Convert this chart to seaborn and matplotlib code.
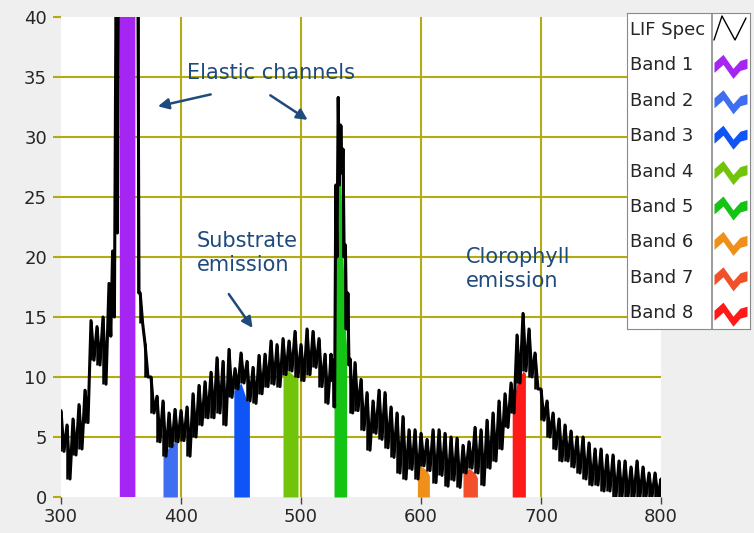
import numpy as np
import matplotlib
matplotlib.use("Agg")
import matplotlib.pyplot as plt
import seaborn as sns

#%% data (nm, intensity upper / lower noise envelope)
wl = [300, 305, 310, 315, 320, 325, 330, 335, 340, 343,
      346, 348, 355, 362, 364, 366, 370, 375, 380, 385,
      390, 395, 400, 405, 410, 415, 420, 425, 430, 435,
      440, 445, 450, 455, 460, 465, 470, 475, 480, 485,
      490, 495, 500, 505, 510, 515, 520, 525, 527, 529,
      531, 533, 535, 537, 539, 541, 545, 550, 555, 560,
      565, 570, 575, 580, 585, 590, 595, 600, 605, 610,
      615, 620, 625, 630, 635, 640, 645, 650, 655, 660,
      665, 670, 675, 680, 685, 690, 695, 700, 705, 710,
      715, 720, 725, 730, 735, 740, 745, 750, 755, 760,
      765, 770, 775, 780, 785, 790, 795, 800]
lif_hi = [7.2, 6.0, 6.5, 7.7, 8.9, 14.7, 14.2, 15.0, 17.8, 20.5,
          45, 45, 45, 45, 45, 17.0, 12.8, 10.0, 8.4, 8.0,
          7.0, 7.3, 7.2, 7.5, 8.6, 9.3, 9.6, 10.4, 11.6, 11.3,
          12.3, 10.7, 12.0, 11.3, 10.8, 11.8, 11.9, 13.0, 12.7, 13.2,
          13.0, 13.8, 12.7, 14.0, 13.8, 13.2, 11.9, 11.9, 11.4, 26.0,
          33.3, 31.0, 29.0, 21.0, 17.0, 11.5, 11.2, 9.8, 8.7, 8.0,
          8.9, 8.7, 7.5, 7.0, 6.7, 5.6, 5.6, 5.3, 4.8, 5.6,
          5.6, 5.3, 5.0, 4.9, 4.3, 4.6, 5.8, 5.6, 6.4, 7.0,
          8.0, 8.6, 9.5, 13.5, 15.3, 14.0, 12.0, 9.0, 8.0, 7.0,
          6.5, 6.0, 5.5, 5.0, 5.0, 4.5, 4.0, 4.0, 3.5, 3.5,
          3.0, 3.0, 2.5, 3.0, 2.5, 2.0, 2.0, 1.5]
lif_lo = [3.8, 1.5, 3.5, 4.0, 6.2, 11.4, 11.0, 9.4, 13.4, 15.0,
          22.0, 42.0, 45, 45, 17.0, 14.5, 10.0, 7.0, 4.6, 3.4,
          4.2, 4.6, 4.7, 3.4, 5.0, 6.0, 6.6, 6.6, 7.0, 6.0,
          8.3, 9.0, 9.5, 8.0, 7.8, 8.6, 9.2, 9.4, 9.2, 10.2,
          10.5, 10.0, 9.7, 10.2, 10.8, 9.2, 7.8, 9.7, 7.5, 20.0,
          26.0, 27.0, 20.0, 14.0, 11.0, 7.0, 7.2, 5.6, 3.9, 5.3,
          4.8, 4.1, 3.3, 2.0, 1.5, 2.3, 1.5, 2.6, 2.2, 1.2,
          1.8, 0.9, 1.4, 0.8, 2.0, 2.4, 2.0, 1.0, 2.4, 3.0,
          4.0, 5.8, 7.0, 9.5, 10.5, 10.0, 9.0, 6.4, 5.0, 4.0,
          3.0, 3.0, 2.5, 2.0, 1.5, 1.0, 1.0, 0.5, 0.5, 0.0,
          0.0, 0.0, 0.0, 0.0, 0.0, 0.0, 0.0, 0.0]

band_names = ["Band 1", "Band 2", "Band 3", "Band 4",
              "Band 5", "Band 6", "Band 7", "Band 8"]
band_start = [349, 385, 444, 485, 527.5, 597, 635, 676]
band_end = [362, 397, 457, 497.5, 538, 607, 647, 687]
band_colors = ["#a526f2", "#3f6ef0", "#0f55f5", "#72c40a",
               "#14c314", "#f0901a", "#f2502a", "#ff1a1a"]

xticks = [300, 400, 500, 600, 700, 800]
yticks = [0, 5, 10, 15, 20, 25, 30, 35, 40]

#%% figure
sns.set_style("white")
plt.rcParams["font.family"] = ["DejaVu Sans"]
olive = "#b4ab14"
navy = "#1f4a7c"

fig = plt.figure(figsize=(7.54, 5.33), dpi=100, facecolor="#efefef")
ax = fig.add_axes([61/754, 1-497/533, 600/754, 480/533])
ax.set_facecolor("white")

# noisy spectrum: saw-tooth between upper value at each wl and lower value
# half way to the next sample, plus vertical noise strokes
wl_a = np.array(wl, dtype=float)
mid = np.append((wl_a[:-1] + wl_a[1:]) / 2, wl_a[-1])
xs, ys = [], []
for w, m, h, l in zip(wl_a, mid, lif_hi, lif_lo):
    xs += [w, m]
    ys += [h, l]

# bands filled under the spectrum
for a, b, c in zip(band_start, band_end, band_colors):
    xb = np.linspace(a, b, 30)
    ax.fill_between(xb, 0, np.interp(xb, wl, lif_lo), color=c, lw=0, zorder=2)

sns.lineplot(x=xs, y=ys, sort=False, estimator=None, color="black",
             lw=2.2, ax=ax, zorder=3)
ax.vlines(wl, lif_lo, lif_hi, color="black", lw=1.8, zorder=3)

ax.set_xlim(300, 800)
ax.set_ylim(0, 40)
ax.set_xticks(xticks)
ax.set_yticks(yticks)
ax.grid(True, color=olive, lw=1.5)
ax.set_axisbelow(True)
for gl in (ax.xaxis.get_gridlines()[0], ax.xaxis.get_gridlines()[-1],
           ax.yaxis.get_gridlines()[0], ax.yaxis.get_gridlines()[-1]):
    gl.set_visible(False)
for s in ax.spines.values():
    s.set_visible(False)
ax.tick_params(axis="y", left=True, color=olive, length=6, width=1.5,
               labelsize=13, pad=4)
ax.tick_params(axis="x", bottom=True, color="#444444", length=5, width=1,
               labelsize=13, pad=3)

# annotations
ax.text(405, 35.3, "Elastic channels", color=navy, fontsize=15,
        ha="left", va="center")
arrow = dict(arrowstyle="-|>", color=navy, lw=1.8, mutation_scale=16)
ax.annotate("", xy=(378.5, 32.5), xytext=(427, 33.6), arrowprops=arrow)
ax.annotate("", xy=(507.5, 31.3), xytext=(472.5, 33.6), arrowprops=arrow)
ax.text(413, 20.3, "Substrate\nemission", color=navy, fontsize=15,
        ha="left", va="center", linespacing=1.25)
ax.annotate("", xy=(461, 13.9), xytext=(438.5, 17.1), arrowprops=arrow)
ax.text(637.5, 19.0, "Clorophyll\nemission", color=navy, fontsize=15,
        ha="left", va="center", linespacing=1.25)

#%% legend box (LabVIEW style: label | icon)
lg = fig.add_axes([627/754, 1-329/533, 123/754, 316/533])
lg.set_facecolor("white")
lg.set_xlim(627, 750)
lg.set_ylim(329, 13)
lg.set_xticks([])
lg.set_yticks([])
for s in lg.spines.values():
    s.set_color("#8a8a8a")
lg.axvline(712, color="#8a8a8a", lw=1.2)

rows = 30 + 35.4 * np.arange(9)
lg.text(630, rows[0], "LIF Spec", fontsize=13, va="center", ha="left",
        clip_on=True)
lg.plot([714, 722, 735, 746], rows[0] + np.array([10, -14, 10, -12]),
        color="black", lw=1)
icon_x = np.array([714, 723, 733, 740, 747])
icon_y = np.array([-3, -11, 3, -5, -7])
for k, (name, c) in enumerate(zip(band_names, band_colors)):
    y = rows[k + 1]
    lg.text(630, y, name, fontsize=13, va="center", ha="left")
    lg.fill_between(icon_x, y + icon_y, y + icon_y + 10, color=c, lw=0)

fig.savefig("out.png", dpi=100, facecolor=fig.get_facecolor())
